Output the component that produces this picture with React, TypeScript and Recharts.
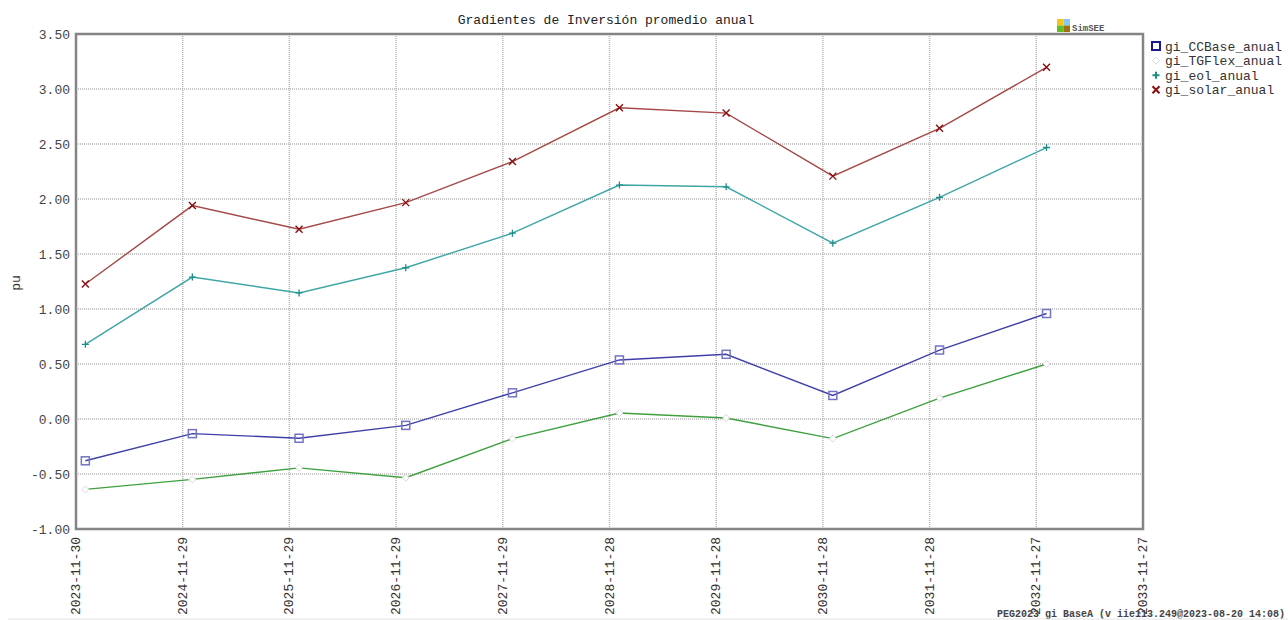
import React from "react";
import { CartesianGrid, Line, LineChart, ReferenceArea, XAxis, YAxis } from "recharts";

const tickDates = [
  "2023-11-30",
  "2024-11-29",
  "2025-11-29",
  "2026-11-29",
  "2027-11-29",
  "2028-11-28",
  "2029-11-28",
  "2030-11-28",
  "2031-11-28",
  "2032-11-27",
  "2033-11-27",
];
const pointDates = [
  "2024-01-01",
  "2025-01-01",
  "2026-01-01",
  "2027-01-01",
  "2028-01-01",
  "2029-01-01",
  "2030-01-01",
  "2031-01-01",
  "2032-01-01",
  "2033-01-01",
];
const ccbase = [-0.38, -0.133, -0.175, -0.058, 0.238, 0.537, 0.588, 0.214, 0.627, 0.959];
const tgflex = [-0.64, -0.549, -0.444, -0.534, -0.178, 0.054, 0.009, -0.178, 0.19, 0.5];
const eol = [0.679, 1.29, 1.146, 1.375, 1.689, 2.127, 2.111, 1.598, 2.015, 2.468];
const solar = [1.227, 1.94, 1.725, 1.967, 2.34, 2.829, 2.781, 2.208, 2.643, 3.197];
const yTicks = [-1, -0.5, 0, 0.5, 1, 1.5, 2, 2.5, 3, 3.5];

const FONT = "'Liberation Mono', 'DejaVu Sans Mono', monospace";

const tickTimes = tickDates.map((d) => Date.parse(d));
const data = pointDates.map((d, i) => ({
  t: Date.parse(d),
  ccbase: ccbase[i],
  tgflex: tgflex[i],
  eol: eol[i],
  solar: solar[i],
}));

type Marker = "square" | "diamond" | "plus" | "cross";

const series: { key: string; name: string; line: string; mark: string; legend: string; marker: Marker }[] = [
  { key: "ccbase", name: "gi_CCBase_anual", line: "#3f3fa8", mark: "#7474c4", legend: "#1a1a8c", marker: "square" },
  { key: "tgflex", name: "gi_TGFlex_anual", line: "#3fa03f", mark: "#d8d8d8", legend: "#d8d8d8", marker: "diamond" },
  { key: "eol", name: "gi_eol_anual", line: "#3fa6a6", mark: "#1f8c8c", legend: "#1f8c8c", marker: "plus" },
  { key: "solar", name: "gi_solar_anual", line: "#a44848", mark: "#8a0f0f", legend: "#8a0f0f", marker: "cross" },
];

function markerShape(kind: Marker, cx: number, cy: number, color: string, key?: string, legend = false) {
  if (kind === "square") {
    const s = 4;
    return (
      <rect key={key} x={cx - s} y={cy - s} width={s * 2} height={s * 2} fill={legend ? "#fff" : "none"} stroke={color} strokeWidth={legend ? 2 : 1.5} />
    );
  }
  if (kind === "diamond") {
    const s = 3.5;
    return (
      <polygon key={key} points={`${cx},${cy - s} ${cx + s},${cy} ${cx},${cy + s} ${cx - s},${cy}`} fill="#fff" stroke={color} strokeWidth={1} />
    );
  }
  if (kind === "plus") {
    const s = 3.5;
    return (
      <path key={key} d={`M${cx - s},${cy}H${cx + s}M${cx},${cy - s}V${cy + s}`} stroke={color} strokeWidth={legend ? 2 : 1.3} fill="none" />
    );
  }
  const s = 3.5;
  return (
    <path key={key} d={`M${cx - s},${cy - s}L${cx + s},${cy + s}M${cx - s},${cy + s}L${cx + s},${cy - s}`} stroke={color} strokeWidth={legend ? 2 : 1.4} fill="none" />
  );
}

function DateTick(props: any) {
  const { x, y, payload } = props;
  const idx = tickTimes.indexOf(payload.value);
  const label = idx >= 0 ? tickDates[idx] : "";
  return (
    <text
      x={x + 4}
      y={y + 6}
      transform={`rotate(-90 ${x + 4} ${y + 6})`}
      textAnchor="end"
      fill="#333"
      fontSize={13}
      fontFamily={FONT}
    >
      {label}
    </text>
  );
}

export default function App() {
  const xMin = tickTimes[0];
  const xMax = tickTimes[tickTimes.length - 1];
  return (
    <div style={{ position: "absolute", left: 0, top: 0, width: 1288, height: 620, background: "#fff" }}>
      <LineChart width={1288} height={620} data={data} margin={{ top: 34, right: 145, bottom: 0, left: 0 }}>
        <CartesianGrid stroke="#b4b4b4" strokeDasharray="1 1" strokeWidth={1.5} />
        <XAxis
          dataKey="t"
          type="number"
          domain={[xMin, xMax]}
          ticks={tickTimes}
          height={91}
          axisLine={false}
          tickLine={false}
          tickSize={0}
          tick={<DateTick />}
          interval={0}
        />
        <YAxis
          type="number"
          domain={[-1, 3.5]}
          ticks={yTicks}
          width={76}
          axisLine={false}
          tickLine={false}
          tickSize={0}
          tickMargin={6}
          interval={0}
          tickFormatter={(v: number) => v.toFixed(2)}
          tick={{ fill: "#444", fontSize: 13, fontFamily: FONT }}
        />
        <ReferenceArea x1={xMin} x2={xMax} y1={-1} y2={3.5} fill="none" stroke="#858585" strokeWidth={2.5} />
        {series.map((s) => (
          <Line
            key={s.key}
            dataKey={s.key}
            name={s.name}
            type="linear"
            stroke={s.line}
            strokeWidth={1.4}
            isAnimationActive={false}
            activeDot={false}
            dot={(p: any) => markerShape(s.marker, p.cx, p.cy, s.mark, `${s.key}-${p.index}`)}
          />
        ))}
      </LineChart>
      <svg width={1288} height={620} style={{ position: "absolute", left: 0, top: 0, pointerEvents: "none" }}>
        <text x={606} y={24} textAnchor="middle" fontSize={13} fontFamily={FONT} fill="#222">
          Gradientes de Inversión promedio anual
        </text>
        <text x={20} y={283} transform="rotate(-90 20 283)" textAnchor="middle" fontSize={13} fontFamily={FONT} fill="#333">
          pu
        </text>
        <rect x={1057} y={19} width={6.5} height={6.5} fill="#f7c51a" />
        <rect x={1063.5} y={19} width={6.5} height={6.5} fill="#86c8f0" />
        <rect x={1057} y={25.5} width={6.5} height={6.5} fill="#62be26" />
        <rect x={1063.5} y={25.5} width={6.5} height={6.5} fill="#a2700e" />
        <text x={1072} y={31} fontSize={9} fontWeight="bold" fontFamily={FONT} fill="#555">
          SimSEE
        </text>
        {series.map((s, i) => (
          <g key={s.key}>
            {markerShape(s.marker, 1156, 46 + i * 14.6, s.legend, undefined, true)}
            <text x={1165} y={50.5 + i * 14.6} fontSize={13} fontFamily={FONT} fill="#333">
              {s.name}
            </text>
          </g>
        ))}
        <text x={997} y={617} fontSize={10} fontWeight="bold" fontFamily={FONT} fill="#444">
          PEG2023 gi BaseA (v iie113.249@2023-08-20 14:08)
        </text>
        <line x1={8} y1={619} x2={1288} y2={619} stroke="#e4e4e4" />
      </svg>
    </div>
  );
}
